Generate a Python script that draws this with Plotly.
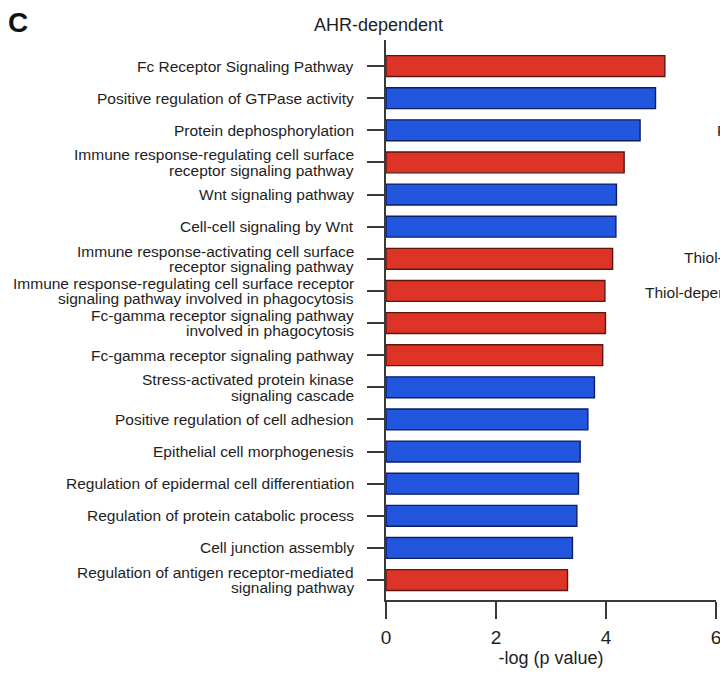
import plotly.graph_objects as go

# GO terms, top to bottom (<br> marks the label line breaks)
terms = [
    "Fc Receptor Signaling Pathway",
    "Positive regulation of GTPase activity",
    "Protein dephosphorylation",
    "Immune response-regulating cell surface<br>receptor signaling pathway",
    "Wnt signaling pathway",
    "Cell-cell signaling by Wnt",
    "Immune response-activating cell surface<br>receptor signaling pathway",
    "Immune response-regulating cell surface receptor<br>signaling pathway involved in phagocytosis",
    "Fc-gamma receptor signaling pathway<br>involved in phagocytosis",
    "Fc-gamma receptor signaling pathway",
    "Stress-activated protein kinase<br>signaling cascade",
    "Positive regulation of cell adhesion",
    "Epithelial cell morphogenesis",
    "Regulation of epidermal cell differentiation",
    "Regulation of protein catabolic process",
    "Cell junction assembly",
    "Regulation of antigen receptor-mediated<br>signaling pathway",
]

# -log(p value) per term
neg_log_p = [5.07, 4.90, 4.62, 4.33, 4.19, 4.18, 4.12, 3.98, 3.99, 3.94,
             3.79, 3.67, 3.53, 3.50, 3.47, 3.39, 3.30]

# bar colour group per term
group = ["red", "blue", "blue", "red", "blue", "blue", "red", "red", "red", "red",
         "blue", "blue", "blue", "blue", "blue", "blue", "red"]

x_ticks = [0, 2, 4, 6]

fills = {"red": "#de3427", "blue": "#2256de"}
edges = {"red": "#5c1710", "blue": "#0d1f63"}

FONT = "Arial, Liberation Sans, Helvetica, sans-serif"
TXT = "#1e1e1e"
AX = "#3a3a3a"
LABEL_SIZE = 15.5
LINE_GAP = 15.5  # px between lines of a wrapped label

fig = go.Figure(
    go.Bar(
        x=neg_log_p,
        y=terms,
        orientation="h",
        width=0.65,
        marker=dict(
            color=[fills[g] for g in group],
            line=dict(color=[edges[g] for g in group], width=1.4),
        ),
        hoverinfo="x",
    )
)

fig.update_layout(
    width=720,
    height=673,
    margin=dict(l=386, r=4, t=40, b=73),
    paper_bgcolor="white",
    plot_bgcolor="white",
    showlegend=False,
    font=dict(family=FONT, color=TXT),
    xaxis=dict(
        range=[0, 6],
        tickvals=x_ticks,
        ticktext=[str(v) for v in x_ticks],
        ticks="outside",
        ticklen=17,
        tickwidth=1.5,
        tickcolor=AX,
        showline=True,
        linecolor=AX,
        linewidth=1.5,
        showgrid=False,
        zeroline=False,
        automargin=False,
        tickfont=dict(size=19, color=TXT),
        ticklabelstandoff=2,
        ticklabeloverflow="allow",
        title=dict(text="-log (p value)", font=dict(size=18, color=TXT), standoff=1),
    ),
    yaxis=dict(
        categoryorder="array",
        categoryarray=terms,
        range=[16.62, -0.81],
        ticks="outside",
        ticklen=17,
        tickwidth=1.5,
        tickcolor=AX,
        showline=True,
        linecolor=AX,
        linewidth=1.5,
        showgrid=False,
        zeroline=False,
        automargin=False,
        showticklabels=False,
    ),
)

# category labels, right-aligned left of the ticks, one text per line
label_x = (356 - 386) / 330
for term in terms:
    lines = term.split("<br>")
    n = len(lines)
    for i, line in enumerate(lines):
        offset = (i - (n - 1) / 2) * LINE_GAP
        fig.add_annotation(text=line, xref="paper", yref="y", x=label_x, y=term,
                           xanchor="right", yanchor="middle", yshift=-offset,
                           showarrow=False,
                           font=dict(size=LABEL_SIZE, color=TXT, family=FONT))

# panel letter and panel title
fig.add_annotation(text="<b>C</b>", xref="paper", yref="paper", x=-1.152, y=1.031,
                   xanchor="left", yanchor="middle", showarrow=False,
                   font=dict(size=28, color="#111111", family=FONT))
fig.add_annotation(text="AHR-dependent", xref="paper", yref="paper", x=-0.024, y=1.027,
                   xanchor="center", yanchor="middle", showarrow=False,
                   font=dict(size=18, color=TXT, family=FONT))

# neighbouring panel labels running off the right edge
for txt, px, py in [("Regulation", 0.997, 0.839),
                    ("Thiol-dependent", 0.897, 0.6125),
                    ("Thiol-dependent", 0.780, 0.55)]:
    fig.add_annotation(text=txt, xref="paper", yref="paper", x=px, y=py,
                       xanchor="left", yanchor="middle", showarrow=False,
                       font=dict(size=LABEL_SIZE, color=TXT, family=FONT))

fig.write_html("out.html")
